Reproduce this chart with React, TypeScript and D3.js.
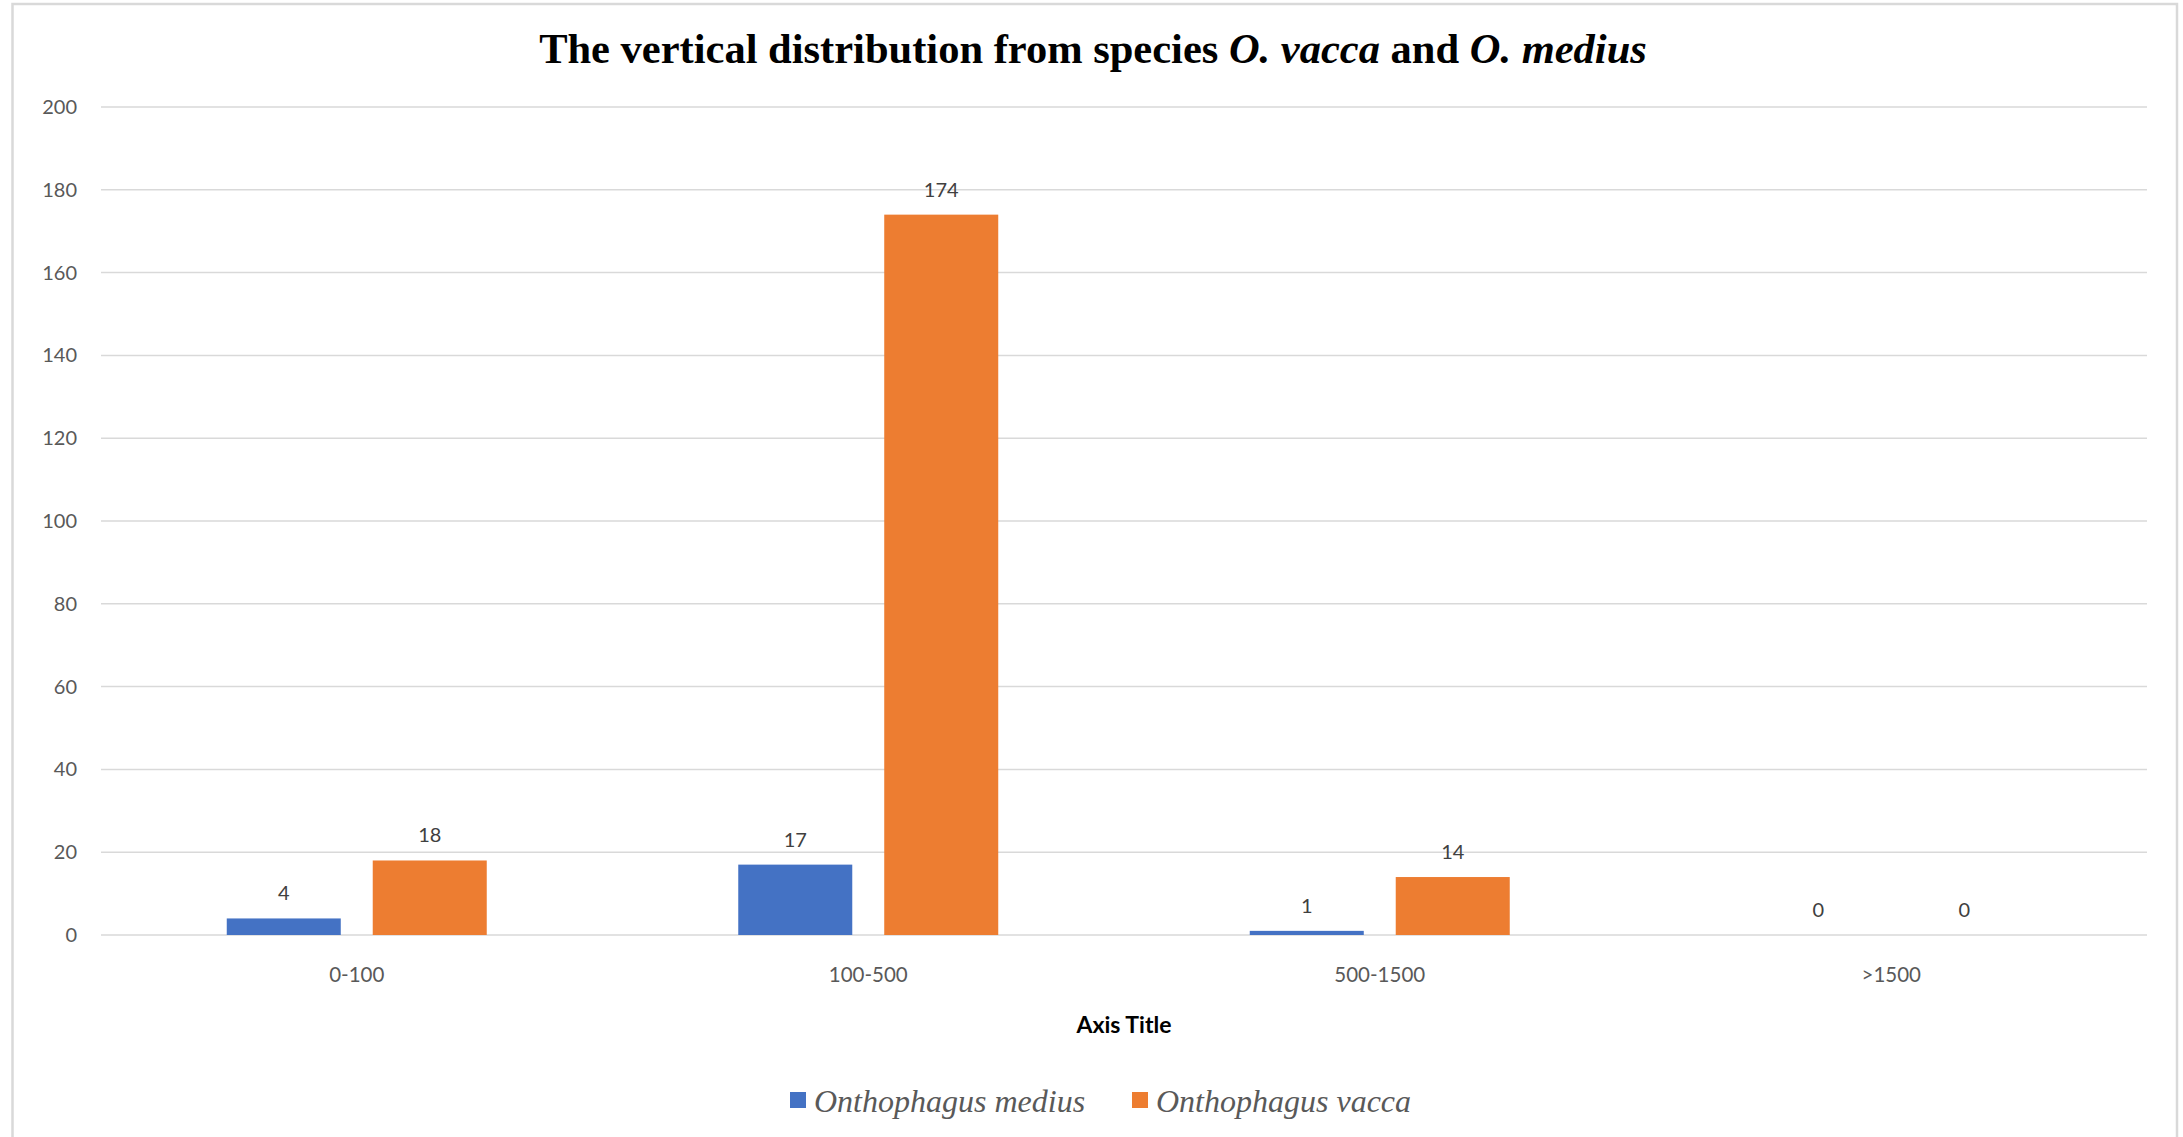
import React from "react";
import * as d3 from "d3";

const categories = ["0-100", "100-500", "500-1500", ">1500"];
const seriesNames = ["Onthophagus medius", "Onthophagus vacca"];
const mediusValues = [4, 17, 1, 0];
const vaccaValues = [18, 174, 14, 0];
const seriesColors = ["#4472C4", "#ED7D31"];
const yTicks = [0, 20, 40, 60, 80, 100, 120, 140, 160, 180, 200];

const W = 2183;
const H = 1137;
const plotLeft = 101;
const plotRight = 2147;
const plotTop = 107;
const plotBottom = 935;

export default function App() {
  const seriesValues = [mediusValues, vaccaValues];
  const y = d3.scaleLinear().domain([0, 200]).range([plotBottom, plotTop]);
  const x0 = d3
    .scaleBand<string>()
    .domain(categories)
    .range([plotLeft, plotRight])
    .paddingInner(0.4917)
    .paddingOuter(0.4917 / 2);
  const x1 = d3
    .scaleBand<string>()
    .domain(seriesNames)
    .range([0, x0.bandwidth()])
    .paddingInner(0.219)
    .paddingOuter(0);

  const axisFont = "Lato, 'Open Sans', sans-serif";
  const plotCenter = (plotLeft + plotRight) / 2;

  const legendItems = [
    { name: seriesNames[0], sq: 790, tx: 814, color: seriesColors[0] },
    { name: seriesNames[1], sq: 1132, tx: 1156, color: seriesColors[1] },
  ];

  return (
    <svg
      width={W}
      height={H}
      style={{ position: "absolute", left: 0, top: 0, display: "block", background: "#fff" }}
    >
      <rect x={0} y={0} width={W} height={H} fill="#fff" />
      <rect
        x={12.5}
        y={4}
        width={2177 - 12.5}
        height={H + 20}
        fill="#fff"
        stroke="#D9D9D9"
        strokeWidth={2.5}
      />
      <text
        x={1093}
        y={63}
        textAnchor="middle"
        fontFamily="'Liberation Serif', 'Times New Roman', serif"
        fontWeight="bold"
        fontSize={42.5}
        fill="#000"
      >
        <tspan>The vertical distribution from species </tspan>
        <tspan fontStyle="italic">O. vacca</tspan>
        <tspan> and </tspan>
        <tspan fontStyle="italic">O. medius</tspan>
      </text>

      {yTicks.map((t) => (
        <g key={t}>
          <line
            x1={plotLeft}
            x2={plotRight}
            y1={y(t)}
            y2={y(t)}
            stroke="#D9D9D9"
            strokeWidth={1.5}
          />
          <text
            x={77}
            y={y(t) + 7}
            textAnchor="end"
            fontFamily={axisFont}
            fontSize={20}
            fill="#595959"
          >
            {t}
          </text>
        </g>
      ))}

      {categories.map((c, ci) => (
        <g key={c} transform={`translate(${x0(c)},0)`}>
          {seriesNames.map((s, si) => {
            const v = seriesValues[si][ci];
            const bx = x1(s) as number;
            const bw = x1.bandwidth();
            return (
              <g key={s}>
                {v > 0 && (
                  <rect
                    x={bx}
                    y={y(v)}
                    width={bw}
                    height={y(0) - y(v)}
                    fill={seriesColors[si]}
                  />
                )}
                <text
                  x={bx + bw / 2}
                  y={y(v) - 18}
                  textAnchor="middle"
                  fontFamily={axisFont}
                  fontSize={20}
                  fill="#404040"
                >
                  {v}
                </text>
              </g>
            );
          })}
          <text
            x={x0.bandwidth() / 2}
            y={982}
            textAnchor="middle"
            fontFamily={axisFont}
            fontSize={20.5}
            fill="#595959"
          >
            {c}
          </text>
        </g>
      ))}

      <text
        x={plotCenter}
        y={1033}
        textAnchor="middle"
        fontFamily={axisFont}
        fontWeight="bold"
        fontSize={23}
        fill="#000"
      >
        Axis Title
      </text>

      {legendItems.map((it) => (
        <g key={it.name}>
          <rect x={it.sq} y={1092} width={16} height={16} fill={it.color} />
          <text
            x={it.tx}
            y={1112}
            fontFamily="'Liberation Serif', 'Times New Roman', serif"
            fontStyle="italic"
            fontSize={32}
            fill="#595959"
          >
            {it.name}
          </text>
        </g>
      ))}
    </svg>
  );
}
